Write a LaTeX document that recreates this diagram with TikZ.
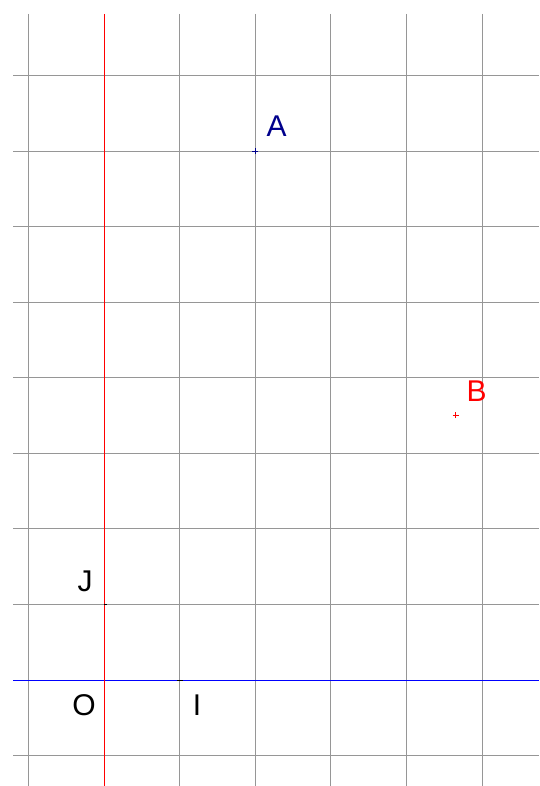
\documentclass[tikz,border=0pt]{standalone}
\usepackage{fontspec}
\setmainfont{Liberation Sans}
\definecolor{gridgray}{RGB}{150,150,150}
\definecolor{ptnavy}{RGB}{0,0,140}
\begin{document}
\begin{tikzpicture}[x=1pt,y=-1pt,
  gridline/.style={gridgray,line width=1pt},
  lbl/.style={font=\fontsize{30}{30}\selectfont,inner sep=0pt},
  ptmark/.style={line width=0.8pt}]
\useasboundingbox (0,0) rectangle (539,786);
\fill[white] (0,0) rectangle (539,786);
% vertical grid lines
\foreach \k in {-1,1,2,3,4,5}{
  \draw[gridline] ({104.3+\k*75.55},14) -- ({104.3+\k*75.55},786);
}
% horizontal grid lines
\foreach \k in {-1,1,2,3,4,5,6,7,8}{
  \draw[gridline] (13,{680-\k*75.55}) -- (539,{680-\k*75.55});
}
% axes
\coordinate (O) at (104.3,680);
\coordinate (I) at (179.85,680);
\coordinate (J) at (104.3,604.45);
\coordinate (A) at (255.4,151.15);
\coordinate (B) at (455.5,415);
\coordinate (ytop) at (104.3,14);
\coordinate (ybot) at (104.3,786);
\coordinate (xl) at (13,680);
\coordinate (xr) at (539,680);
\draw[blue,line width=1pt] (xl) -- (xr);
\draw[red,line width=1.2pt] (ytop) -- (ybot);
% point marks
\draw[ptmark,ptnavy] ([xshift=-3pt]A) -- ([xshift=3pt]A) ([yshift=-3pt]A) -- ([yshift=3pt]A);
\draw[ptmark,red] ([xshift=-3pt]B) -- ([xshift=3pt]B) ([yshift=-3pt]B) -- ([yshift=3pt]B);
\draw[ptmark,black] ([xshift=-3pt]I) -- ([xshift=3pt]I);
\draw[ptmark,black] ([yshift=-0pt]J) -- ([xshift=3pt]J);
% labels
\node[lbl,ptnavy] (lA) at (276.7,126) {A};
\node[lbl,red] (lB) at (476.7,391) {B};
\node[lbl,black] (lJ) at (85,581) {J};
\node[lbl,black] (lO) at (84,705) {O};
\node[lbl,black] (lI) at (197,705) {I};
\end{tikzpicture}
\end{document}
